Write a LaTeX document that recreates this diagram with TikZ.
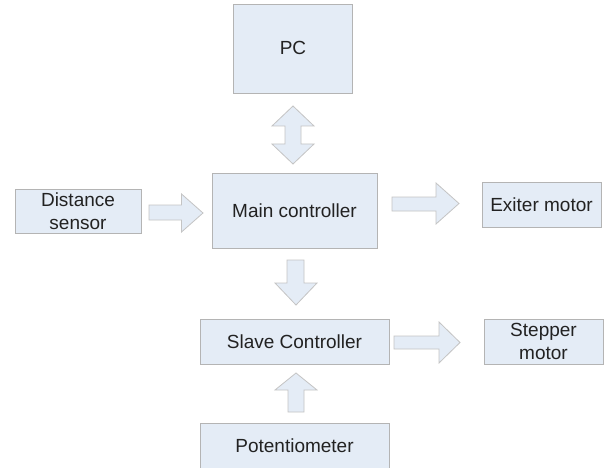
\documentclass[tikz,border=0pt]{standalone}
\usepackage{fontspec}
\setmainfont{Liberation Sans}
\definecolor{boxfill}{HTML}{E4ECF6}
\definecolor{boxline}{HTML}{B4B4B4}
\definecolor{arrline}{HTML}{C4C4C4}
\definecolor{txt}{HTML}{222222}
\begin{document}
\begin{tikzpicture}[x=1pt,y=-1pt,
  blk/.style={draw=boxline,fill=boxfill,line width=0.9pt},
  lbl/.style={text=txt,font=\fontsize{19}{23.5}\selectfont,align=center,inner sep=0pt},
  barrow/.style={draw=arrline,fill=boxfill,line width=0.8pt,line join=miter}]
\clip (0,0) rectangle (605,468);
\fill[white] (0,0) rectangle (605,468);
% boxes
\draw[blk] (233.5,4) rectangle (352.5,93);
\node[lbl] (pc) at (293,48) {PC};
\draw[blk] (212,173) rectangle (377,248);
\node[lbl] (mc) at (294.5,211) {Main controller};
\draw[blk] (15,189) rectangle (141,233);
\node[lbl] (ds) at (78,211) {Distance\\sensor};
\draw[blk] (482,182) rectangle (601,227);
\node[lbl] (em) at (541.5,204.5) {Exiter motor};
\draw[blk] (200,319) rectangle (389,364);
\node[lbl] (sc) at (294.5,341.5) {Slave Controller};
\draw[blk] (484,319) rectangle (603,364);
\node[lbl] (sm) at (543.5,341.5) {Stepper\\motor};
\draw[blk] (200,423) rectangle (389,480);
\node[lbl] (pot) at (294.5,446) {Potentiometer};
% block arrows
% PC <-> MC
\draw[barrow] (293,106) -- (314,126) -- (301,126) -- (301,144) -- (314,144) -- (293,164)
  -- (272,144) -- (285,144) -- (285,126) -- (272,126) -- cycle;
% DS -> MC
\draw[barrow] (149,205) -- (181.5,205) -- (181.5,194) -- (203,213) -- (181.5,232) -- (181.5,220) -- (149,220) -- cycle;
% MC -> EM
\draw[barrow] (392,197) -- (436,197) -- (436,183) -- (459,203.5) -- (436,224) -- (436,211) -- (392,211) -- cycle;
% MC -> SC
\draw[barrow] (287,260) -- (304,260) -- (304,283) -- (317,283) -- (296,305) -- (275,283) -- (287,283) -- cycle;
% SC -> SM
\draw[barrow] (394,336) -- (439,336) -- (439,322) -- (460,342.5) -- (439,363) -- (439,349) -- (394,349) -- cycle;
% Pot -> SC
\draw[barrow] (296,373) -- (317,390) -- (304,390) -- (304,412) -- (288,412) -- (288,390) -- (275,390) -- cycle;
\end{tikzpicture}
\end{document}
